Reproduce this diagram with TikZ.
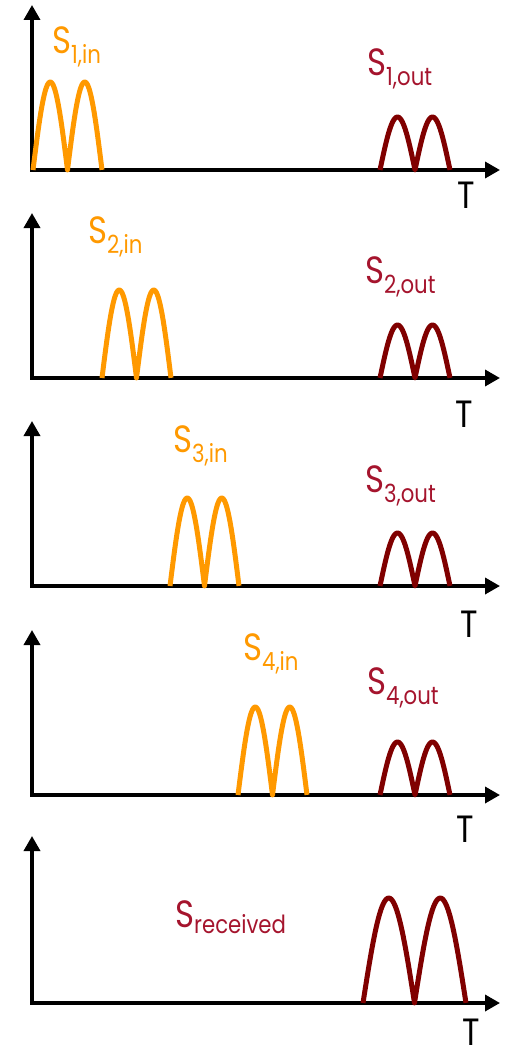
\documentclass[tikz,border=0pt]{standalone}
\usepackage{fontspec}
\setmainfont[FakeStretch=0.85]{Poppins}
\usetikzlibrary{arrows.meta}
\definecolor{pulseorange}{HTML}{FF9900}
\definecolor{pulsered}{HTML}{800000}
\definecolor{labelred}{HTML}{A5142D}
\newcommand{\subtxt}[2]{\raisebox{#1}{\fontsize{25}{25}\selectfont #2}}
\begin{document}
\begin{tikzpicture}[x=1pt,y=-1pt,
  axis/.style={line width=3.5pt, line join=miter, {Triangle[length=15pt,width=16pt]}-{Triangle[length=15pt,width=16pt]}},
  inpulse/.style={pulseorange, line width=5pt, line join=round},
  outpulse/.style={pulsered, line width=5pt, line join=round},
  lbl/.style={anchor=base west, inner sep=0pt, font=\fontsize{38}{38}\selectfont},
  inlbl/.style={lbl, text=pulseorange},
  outlbl/.style={lbl, text=labelred},
  tlbl/.style={lbl, text=black, text depth=0pt}]
\useasboundingbox (0,0) rectangle (514,1049);
% axes
\foreach \ay/\tip in {170/5, 378/213, 586/421, 795/630, 1003/836} {
  \draw[axis] (32,\tip) -- (32,\ay) -- (500,\ay);
}
% input pulses
\foreach \ay/\sx in {170/33, 378/102, 586/170, 795/238} {
  \draw[inpulse] plot[domain=0:2, samples=81] ({\sx+\x*34.5}, {\ay-88*abs(sin(\x*180))});
}
% output pulses
\foreach \ay in {170, 378, 586, 795} {
  \draw[outpulse] plot[domain=0:2, samples=81] ({380+\x*35}, {\ay-53*abs(sin(\x*180))});
}
% received pulse
\draw[outpulse] plot[domain=0:2, samples=81] ({363+\x*51.5}, {1003-105*abs(sin(\x*180))});
% labels
\node[inlbl] (in1) at (52,53) {S\subtxt{-10pt}{1,in}};
\node[inlbl] (in2) at (88,243) {S\subtxt{-10pt}{2,in}};
\node[inlbl] (in3) at (173,452) {S\subtxt{-10pt}{3,in}};
\node[inlbl] (in4) at (243,660) {S\subtxt{-10pt}{4,in}};
\node[outlbl] (out1) at (367,75) {S\subtxt{-10pt}{1,out}};
\node[outlbl] (out2) at (365,283) {S\subtxt{-10pt}{2,out}};
\node[outlbl] (out3) at (365,492) {S\subtxt{-10pt}{3,out}};
\node[outlbl] (out4) at (367,694) {S\subtxt{-10pt}{4,out}};
\node[outlbl] (rec) at (175,927) {S\subtxt{-6pt}{received}};
\node[tlbl] (t1) at (457,208) {T};
\node[tlbl] (t2) at (455,427) {T};
\node[tlbl] (t3) at (460,637) {T};
\node[tlbl] (t4) at (456,842) {T};
\node[tlbl] (t5) at (462,1045) {T};
\end{tikzpicture}
\end{document}
